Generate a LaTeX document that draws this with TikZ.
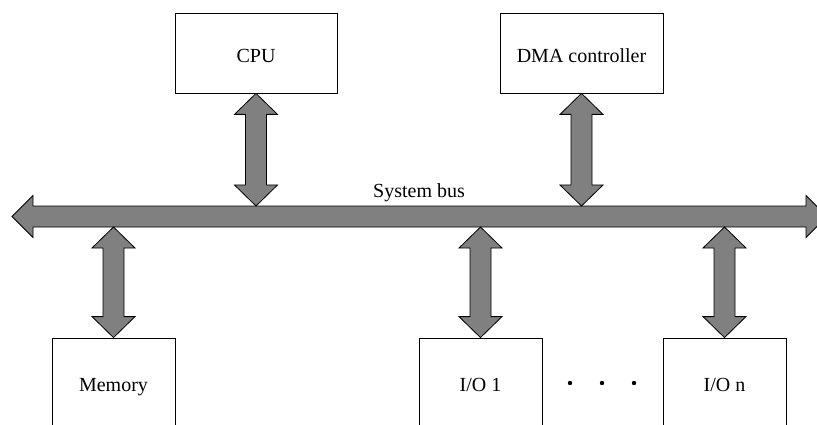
\documentclass[tikz,border=0pt]{standalone}
\usepackage{fontspec}
\setmainfont{Liberation Serif}
\usetikzlibrary{calc}
\tikzset{
  unit/.style={draw=black, line width=0.8pt, fill=white, inner sep=0pt,
    font=\fontsize{20}{24}\selectfont},
  topbox/.style={unit, minimum width=162pt, minimum height=80pt, text height=19pt, text depth=0pt},
  botbox/.style={unit, minimum width=123pt, minimum height=92pt, text height=14pt, text depth=0pt},
  busarrow/.style={draw=black, line width=0.8pt, fill=black!50, line join=miter},
  lbl/.style={font=\fontsize{20}{24}\selectfont, inner sep=0pt}
}
\newcommand{\VArrow}[2]{%
  \draw[busarrow] let \p1=(#1), \p2=(#2) in
    (\x1,\y1) -- (\x1+21.5pt,\y1-21pt) -- (\x1+10.5pt,\y1-21pt)
    -- (\x1+10.5pt,\y2+21pt) -- (\x1+21.5pt,\y2+21pt) -- (\x1,\y2)
    -- (\x1-21.5pt,\y2+21pt) -- (\x1-10.5pt,\y2+21pt)
    -- (\x1-10.5pt,\y1-21pt) -- (\x1-21.5pt,\y1-21pt) -- cycle;}
\newcommand{\HArrow}[2]{%
  \draw[busarrow] let \p1=(#1), \p2=(#2) in
    (\x1,\y1) -- (\x1+21pt,\y1+21pt) -- (\x1+21pt,\y1+10.5pt)
    -- (\x2-21pt,\y1+10.5pt) -- (\x2-21pt,\y1+21pt) -- (\x2,\y1)
    -- (\x2-21pt,\y1-21pt) -- (\x2-21pt,\y1-10.5pt)
    -- (\x1+21pt,\y1-10.5pt) -- (\x1+21pt,\y1-21pt) -- cycle;}
\begin{document}
\begin{tikzpicture}[x=1pt,y=-1pt]
\useasboundingbox (0,0) rectangle (817,425);
\clip (0,0) rectangle (817,425);
% boxes
\node[topbox, minimum width=162pt] (cpu) at (256,53) {CPU};
\node[topbox, minimum width=163pt] (dma) at (581.5,53) {DMA controller};
\node[botbox] (mem) at (113.5,384) {Memory};
\node[botbox] (io1) at (480.5,384) {I/O 1};
\node[botbox] (ion) at (724.5,384) {I/O n};
% bus
\coordinate (busL) at (12,216.5);
\coordinate (busR) at (827,216.5);
\coordinate (bustop) at (0,206);
\coordinate (busbot) at (0,227);
\HArrow{busL}{busR}
\node[lbl, anchor=base] (buslbl) at (419,197) {System bus};
% vertical connectors
\VArrow{cpu.south}{cpu.south |- bustop}
\VArrow{dma.south}{dma.south |- bustop}
\VArrow{mem.north |- busbot}{mem.north}
\VArrow{io1.north |- busbot}{io1.north}
\VArrow{ion.north |- busbot}{ion.north}
% dots
\foreach \i/\xx in {1/570,2/602,3/634}
  \fill (\xx,383) circle (2.2pt) coordinate (dot\i);
\end{tikzpicture}
\end{document}
